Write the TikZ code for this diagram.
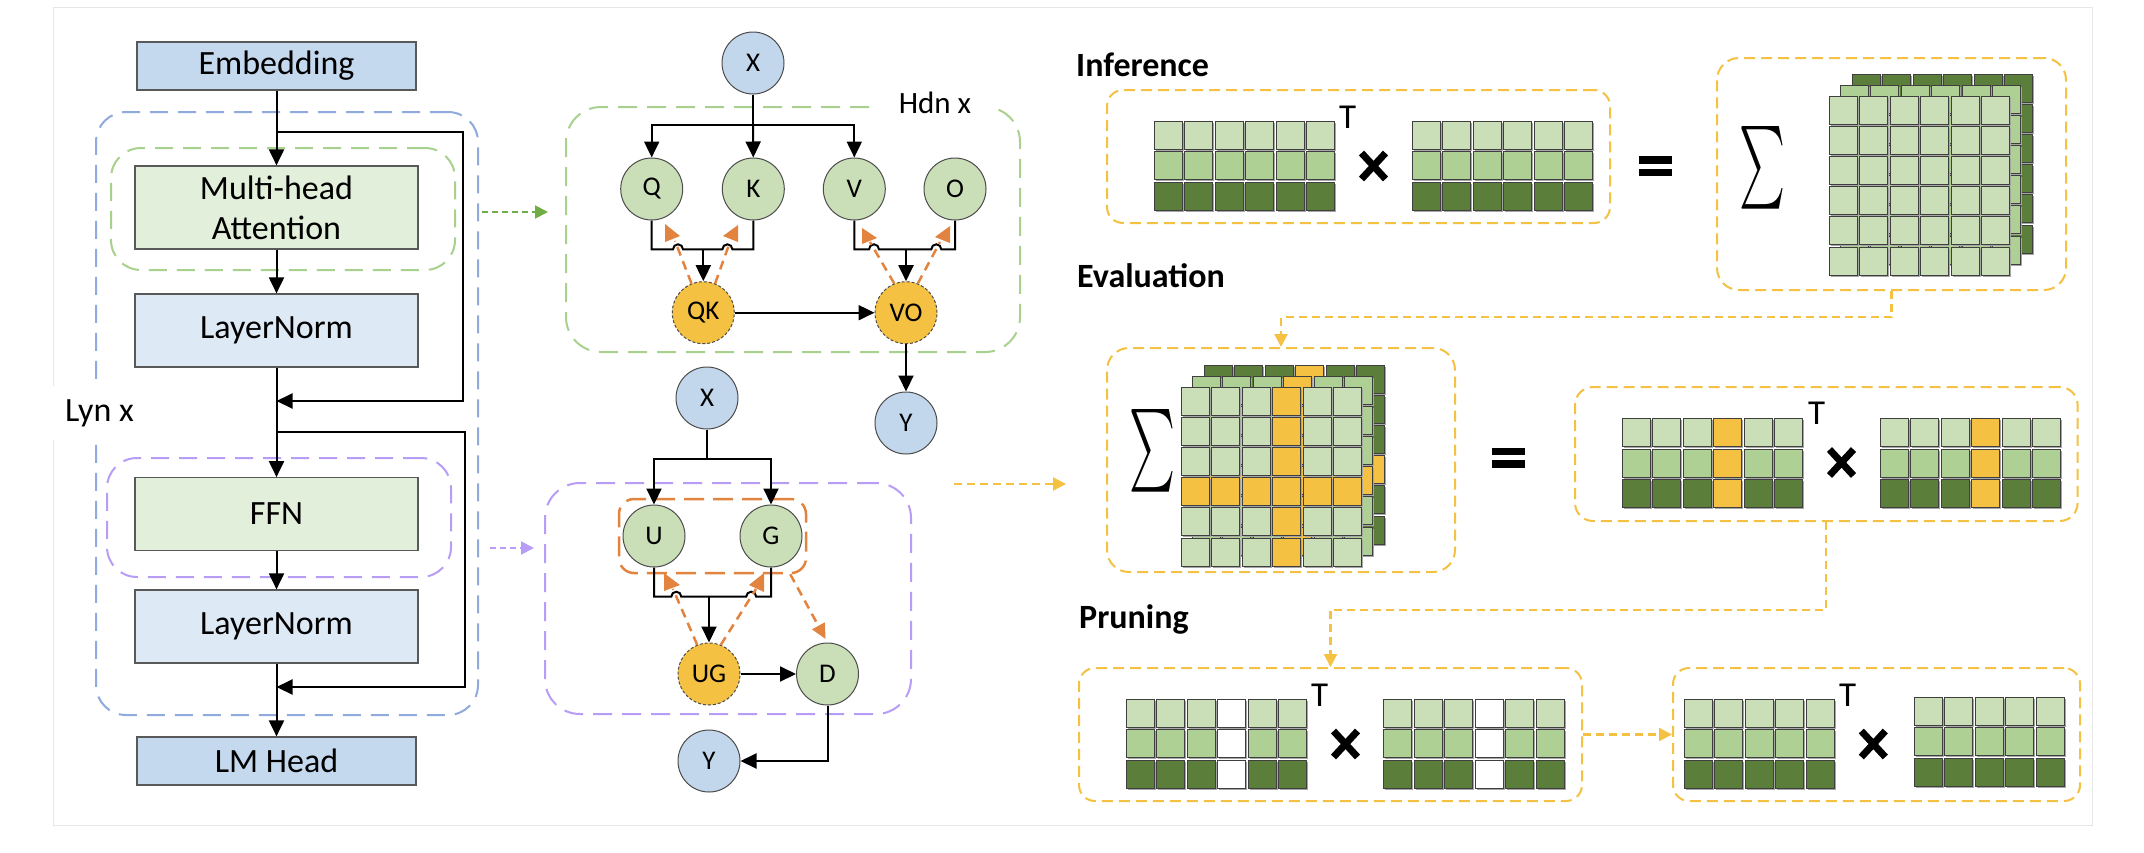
\documentclass[tikz,border=0pt]{standalone}
\usepackage{fontspec}
\setmainfont{Carlito}
\usepackage{graphicx}
\usetikzlibrary{arrows.meta}
\definecolor{lg}{HTML}{CADFB8}
\definecolor{mg}{HTML}{AED094}
\definecolor{dg}{HTML}{5B7F3B}
\definecolor{gold}{HTML}{F4C142}
\definecolor{blueA}{HTML}{C5D9EE}
\definecolor{blueB}{HTML}{DEE9F6}
\definecolor{greenbox}{HTML}{E2EFDA}
\definecolor{circblue}{HTML}{C2D6EC}
\definecolor{circgreen}{HTML}{CADFB8}
\definecolor{dashblue}{HTML}{8FAADC}
\definecolor{dashgreen}{HTML}{A9D18E}
\definecolor{dashpurple}{HTML}{B79DF5}
\definecolor{arrgreen}{HTML}{70AD47}
\definecolor{orng}{HTML}{E2843F}
\definecolor{framegray}{HTML}{E6E6E6}
\definecolor{cellb}{HTML}{3F3F3F}
\tikzset{
  lbl/.style={font=\fontsize{34}{40}\selectfont, inner sep=0pt},
  blk/.style={draw=black!65, line width=1.2pt, inner sep=0pt, align=center, font=\fontsize{34}{40}\selectfont},
  conn/.style={line width=2pt, black},
  arr/.style={conn, -{Triangle[length=16pt,width=15pt]}},
  circ/.style={circle, draw=black!70, line width=1pt, minimum size=62pt, inner sep=0pt, font=\fontsize{27}{27}\selectfont},
  cblue/.style={circ, fill=circblue},
  cgreen/.style={circ, fill=circgreen},
  cgold/.style={circ, fill=gold, dash pattern=on 3pt off 2pt},
  grp/.style={draw, line width=2pt, inner sep=0pt, rectangle},
  ybox/.style={grp, draw=gold, dash pattern=on 11pt off 6pt, rounded corners=16pt},
  ydash/.style={gold, line width=2.2pt, dash pattern=on 8pt off 5pt, -{Triangle[length=13pt,width=13pt]}},
  odash/.style={orng, line width=2.5pt, dash pattern=on 9pt off 6pt},
  title/.style={font=\fontsize{34}{40}\selectfont\bfseries, anchor=base west, inner sep=0pt},
  tlbl/.style={font=\fontsize{35}{40}\selectfont, anchor=base west, inner sep=0pt},
}
\newcommand{\cellsq}[3]{%
  \fill[black!35] ({#1+1.5},{#2+1.5}) rectangle ++(28,28);
  \filldraw[draw=cellb, line width=0.9pt, fill=#3] ({#1},{#2}) rectangle ++(28,28);}
\newcommand{\flatmat}[5]{%
  \foreach \cx in {1,...,#3}{%
    \foreach \ry/\cc in {0/lg,1/mg,2/dg}{%
      \ifnum\cx=#4\relax\def\fillc{#5}\else\edef\fillc{\cc}\fi
      \cellsq{#1+(\cx-1)*30.5}{#2+\ry*30.5}{\fillc}%
    }}}
\newcommand{\stackmat}[4]{%
  \foreach \ox/\oy/\cc in {23/22/dg,11/11/mg,0/0/lg}{%
    \foreach \cx in {1,...,6}{%
      \foreach \ry in {1,...,6}{%
        \edef\fillc{\cc}%
        \ifnum\cx=#3\relax\def\fillc{gold}\fi
        \ifnum\ry=#4\relax\def\fillc{gold}\fi
        \cellsq{#1+\ox+(\cx-1)*30.5}{#2-\oy+(\ry-1)*30.2}{\fillc}%
      }}}}
\newcommand{\bigx}[2]{\draw[line width=7pt] ({#1-12},{#2-13}) -- ({#1+12},{#2+13}) ({#1+12},{#2-13}) -- ({#1-12},{#2+13});}
\newcommand{\bigeq}[2]{\fill ({#1-16.5},{#2-10}) rectangle ++(33,7.5); \fill ({#1-16.5},{#2+2.5}) rectangle ++(33,7.5);}
\begin{document}
\begin{tikzpicture}[x=1pt,y=-1pt]
\useasboundingbox (0,0) rectangle (2144,852);
\fill[white] (0,0) rectangle (2144,852);
\draw[framegray, line width=1pt] (53,7) rectangle (2092,825);

% ---------- left panel ----------
\node[grp, draw=dashblue, dash pattern=on 18pt off 10pt, rounded corners=30pt, minimum width=382, minimum height=603] (lyn) at (287,413.5) {};
\node[grp, draw=dashgreen, dash pattern=on 18pt off 10pt, rounded corners=30pt, minimum width=344, minimum height=122] (attg) at (283,209) {};
\node[grp, draw=dashpurple, dash pattern=on 18pt off 10pt, rounded corners=30pt, minimum width=344, minimum height=119] (ffng) at (279,517.5) {};
\node[lbl, fill=white, minimum width=96, minimum height=54] (lynl) at (99.5,413) {Lyn x};

\node[blk, fill=blueA, minimum width=279, minimum height=48] (emb) at (276.5,66) {Embedding};
\node[blk, fill=greenbox, minimum width=283, minimum height=83] (mha) at (276.5,207.5) {Multi-head\\Attention};
\node[blk, fill=blueB, minimum width=283, minimum height=73] (ln1) at (276.5,330.5) {LayerNorm};
\node[blk, fill=greenbox, minimum width=283, minimum height=72.5] (ffn) at (276.5,514) {FFN};
\node[blk, fill=blueB, minimum width=283, minimum height=73] (ln2) at (276.5,626.5) {LayerNorm};
\node[blk, fill=blueA, minimum width=279, minimum height=48] (lmh) at (276.5,761) {LM Head};

\draw[arr] (emb) -- (mha);
\draw[arr] (mha) -- (ln1);
\draw[arr] (ln1) -- (ffn);
\draw[arr] (ffn) -- (ln2);
\draw[arr] (ln2) -- (lmh);
\coordinate (r1a) at (276.5,132); \coordinate (r1b) at (276.5,401);
\draw[arr] (r1a) -- (463,132) -- (463,401) -- (r1b);
\coordinate (r2a) at (276.5,432); \coordinate (r2b) at (276.5,687);
\draw[arr] (r2a) -- (465,432) -- (465,687) -- (r2b);

\coordinate (ga) at (482,212); \coordinate (gb) at (548,212);
\draw[arrgreen, line width=2pt, dash pattern=on 6pt off 4pt, -{Triangle[length=13pt,width=13pt]}] (ga) -- (gb);
\coordinate (pa) at (490,548); \coordinate (pb) at (534,548);
\draw[dashpurple, line width=2pt, dash pattern=on 6pt off 4pt, -{Triangle[length=13pt,width=13pt]}] (pa) -- (pb);

% ---------- attention graph ----------
\node[grp, draw=dashgreen, dash pattern=on 19pt off 10pt, rounded corners=35pt, minimum width=454, minimum height=245] (hdn) at (793,229.5) {};
\node[lbl, fill=white, minimum width=112, minimum height=30, font=\fontsize{31}{31}\selectfont] (hdnl) at (935,103) {Hdn x};

\node[cblue] (X1) at (753,63) {X};
\node[cgreen] (Q) at (651.7,189) {Q};
\node[cgreen] (K) at (753.3,189) {K};
\node[cgreen] (V) at (854.3,189) {V};
\node[cgreen] (O) at (955,189) {O};
\node[cgold] (QK) at (703.3,312.7) {QK};
\node[cgold] (VO) at (906,312.7) {VO};
\node[cblue] (Y1) at (906,423) {Y};

\coordinate (b1) at (753,125);
\draw[conn] (X1) -- (b1);
\draw[arr] (b1) -| (Q.north);
\draw[arr] (b1) -- (K.north);
\draw[arr] (b1) -| (V.north);

\coordinate (mQK) at (703.3,249.3);
\draw[conn] (Q.south) -- (Q.south |- mQK) -- (673,249.3) arc[start angle=180,end angle=0,radius=5pt] -- (722.4,249.3) arc[start angle=180,end angle=0,radius=5pt] -- (K.south |- mQK) -- (K.south);
\draw[arr] (mQK) -- (QK.north);
\coordinate (mVO) at (906,249.3);
\draw[conn] (V.south) -- (V.south |- mVO) -- (869,249.3) arc[start angle=180,end angle=0,radius=5pt] -- (931.3,249.3) arc[start angle=180,end angle=0,radius=5pt] -- (O.south |- mVO) -- (O.south);
\draw[arr] (mVO) -- (VO.north);

\draw[odash] (QK.112) -- (675,241);
\fill[orng] (665,224) -- (665,242) -- (680,236) -- cycle;
\draw[odash] (QK.68) -- (730,242);
\fill[orng] (723,236) -- (738,225) -- (738,242) -- cycle;
\draw[odash] (VO.112) -- (870,242);
\fill[orng] (862,228) -- (862,244) -- (877,238) -- cycle;
\draw[odash] (VO.68) -- (940,242);
\fill[orng] (935,237) -- (950,226) -- (950,243) -- cycle;

\draw[arr] (QK) -- (VO);
\draw[arr] (VO) -- (Y1);

% ---------- FFN graph ----------
\node[grp, draw=dashpurple, dash pattern=on 19pt off 10pt, rounded corners=35pt, minimum width=366, minimum height=231] (ffnbox) at (728,598.5) {};
\node[grp, draw=orng, line width=2.5pt, dash pattern=on 20pt off 9pt, rounded corners=15pt, minimum width=187, minimum height=74] (ugbox) at (712.5,536) {};

\node[cblue] (X2) at (707,398) {X};
\node[cgreen] (U) at (654,536) {U};
\node[cgreen] (G) at (771,536) {G};
\node[cgold] (UG) at (709,674) {UG};
\node[cgreen] (D) at (827.5,674) {D};
\node[cblue] (Y2) at (709,761) {Y};

\coordinate (b2) at (707,459);
\draw[conn] (X2) -- (b2);
\draw[arr] (b2) -| (U.north);
\draw[arr] (b2) -| (G.north);
\coordinate (mUG) at (709,596.7);
\draw[conn] (U.south) -- (U.south |- mUG) -- (671.3,596.7) arc[start angle=180,end angle=0,radius=5pt] -- (746.2,596.7) arc[start angle=180,end angle=0,radius=5pt] -- (G.south |- mUG) -- (G.south);
\draw[arr] (mUG) -- (UG.north);
\draw[arr] (UG) -- (D);
\draw[arr] (D.south) |- (Y2.east);

\draw[odash] (UG.112) -- (673,589);
\fill[orng] (664,573) -- (664,591) -- (680,585) -- cycle;
\draw[odash] (UG.68) -- (756,589);
\fill[orng] (749,585) -- (764,573) -- (764,592) -- cycle;
\draw[odash, -{Triangle[length=15pt,width=14pt]}, shorten >=4pt] ([xshift=-17pt]ugbox.south east) -- (D.north);

\coordinate (ya) at (954,484); \coordinate (yb) at (1066,484);
\draw[ydash] (ya) -- (yb);

% ---------- right panel ----------
\node[title] (tinf) at (1076,76) {Inference};
\node[title] (teval) at (1077,287) {Evaluation};
\node[title] (tprun) at (1079,628) {Pruning};

\node[ybox, minimum width=503, minimum height=133] (inf) at (1358.5,156.5) {};
\node[ybox, rounded corners=22pt, minimum width=349, minimum height=232] (res) at (1891.5,174) {};
\node[ybox, rounded corners=22pt, minimum width=348, minimum height=224] (evL) at (1281,460) {};
\node[ybox, rounded corners=18pt, minimum width=502.6, minimum height=134] (evR) at (1826.3,454) {};
\node[ybox, minimum width=503, minimum height=133] (prL) at (1330.5,734.5) {};
\node[ybox, minimum width=407, minimum height=133] (prR) at (1876.5,734.5) {};

\draw[ydash] (res.south) -- ++(0,26) -| (evL.north);
\draw[ydash] (evR.south) -- ++(0,88) -| (prL.north);
\draw[ydash] (prL.east) -- (prR.west);

% inference
\flatmat{1154}{121}{6}{0}{lg}
\node[tlbl] (T1) at (1339,128) {T};
\bigx{1373.5}{166}
\flatmat{1412}{121}{6}{0}{lg}
\bigeq{1655.5}{166}
\node (sig1) at (1762,168) {\resizebox{46pt}{62pt}{$\sum$}};
\stackmat{1829}{96}{0}{0}

% evaluation
\node (sig2) at (1152.5,451) {\resizebox{46pt}{62pt}{$\sum$}};
\stackmat{1181}{387}{4}{4}
\bigeq{1508.5}{457.5}
\flatmat{1622}{418.7}{6}{4}{gold}
\node[tlbl] (T2) at (1808,424) {T};
\bigx{1841.5}{462.5}
\flatmat{1880}{418.7}{6}{4}{gold}

% pruning
\flatmat{1126}{699}{6}{4}{white}
\node[tlbl] (T3) at (1311,706) {T};
\bigx{1345.5}{744}
\flatmat{1383.5}{699}{6}{4}{white}
\flatmat{1684}{699}{5}{0}{lg}
\node[tlbl] (T4) at (1839,706) {T};
\bigx{1873.3}{744}
\flatmat{1914}{697}{5}{0}{lg}
\end{tikzpicture}
\end{document}
